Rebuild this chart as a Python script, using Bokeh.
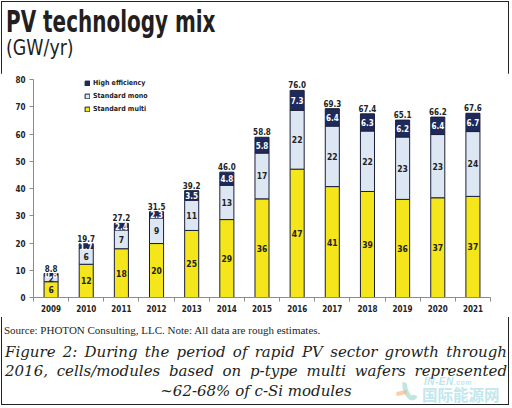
import numpy as np
from bokeh.plotting import figure
from bokeh.layouts import column
from bokeh.models import (ColumnDataSource, FixedTicker, Legend, LegendItem,
                          Range1d, BasicTickFormatter, Div)
from bokeh.core.properties import value
from bokeh.embed import file_html
from bokeh.resources import INLINE

# ---------------- data ----------------
years = [2009, 2010, 2011, 2012, 2013, 2014, 2015, 2016, 2017, 2018, 2019, 2020, 2021]
standard_multi = [5.8, 12.2, 17.9, 19.8, 24.6, 28.6, 36.2, 47.1, 40.7, 38.9, 36.0, 36.6, 37.1]
standard_mono = [2.2, 5.8, 6.9, 9.4, 11.1, 12.6, 16.8, 21.6, 22.2, 22.2, 22.9, 23.2, 23.8]
high_efficiency = [0.8, 1.7, 2.4, 2.3, 3.5, 4.8, 5.8, 7.3, 6.4, 6.3, 6.2, 6.4, 6.7]
series_labels = ["Standard multi", "Standard mono", "High efficiency"]
y_ticks = [0, 10, 20, 30, 40, 50, 60, 70, 80]

title_text = "PV technology mix"
unit_text = "(GW/yr)"
source_text = "Source: PHOTON Consulting, LLC. Note: All data are rough estimates."
caption_lines = [
    "Figure 2: During the period of rapid PV sector growth through",
    "2016, cells/modules based on p-type multi wafers represented",
    "~62-68% of c-Si modules",
]
watermark_latin = "IN-EN"
watermark_latin_small = ".com"
watermark_cjk = "国际能源网"

# ---------------- styles ----------------
COND = "'Liberation Sans Narrow', 'DejaVu Sans Condensed', 'Roboto Condensed', 'Liberation Sans', sans-serif"
SERIF = "'DejaVu Serif', serif"
SERIF2 = "'Liberation Serif', serif"
colors = ["#f4e61a", "#dde6f3", "#1e2a5c"]
edge = "#1b1f3b"
axis_gray = "#8c8c8c"
W = 510

multi = np.array(standard_multi)
mono = np.array(standard_mono)
high = np.array(high_efficiency)
total = multi + mono + high

src = ColumnDataSource(dict(year=years, multi=standard_multi, mono=standard_mono,
                            high=high_efficiency))

p = figure(width=W, height=244, output_backend="svg", toolbar_location=None,
           title=None, x_range=Range1d(2008.5, 2021.5), y_range=Range1d(0, 80),
           min_border_left=33, min_border_right=20, min_border_top=6,
           min_border_bottom=20, margin=0)
p.outline_line_color = None
p.xgrid.visible = False
p.ygrid.visible = False
p.background_fill_color = "white"
p.border_fill_color = "white"

rs = p.vbar_stack(["multi", "mono", "high"], x="year", width=0.4, source=src,
                  fill_color=colors, line_color=edge, line_width=1)

# segment labels
lab = ColumnDataSource(dict(
    x=years,
    y_multi=multi / 2, t_multi=[f"{v:.0f}" for v in multi],
    y_mono=multi + mono / 2, t_mono=[f"{v:.0f}" for v in mono],
    y_high=multi + mono + high / 2, t_high=[f"{v:.1f}" for v in high],
    y_tot=total, t_tot=[f"{v:.1f}" for v in total],
))
common = dict(source=lab, text_align="center", text_font=value(COND),
              text_font_style="bold")
p.text(x="x", y="y_multi", text="t_multi", text_baseline="middle", text_color="#222222",
       text_font_size="8.5px", **common)
p.text(x="x", y="y_mono", text="t_mono", text_baseline="middle", text_color="#222222",
       text_font_size="8.5px", **common)
p.text(x="x", y="y_high", text="t_high", text_baseline="middle", text_color="white",
       text_font_size="8px", **common)
p.text(x="x", y="y_tot", text="t_tot", text_baseline="bottom", y_offset=-2,
       text_color="#222222", text_font_size="8px", **common)

# axes
p.xaxis.ticker = FixedTicker(ticks=years,
                             minor_ticks=[y - 0.5 for y in years] + [years[-1] + 0.5])
p.xaxis.formatter = BasicTickFormatter(use_scientific=False)
p.xaxis.major_tick_out = 0
p.xaxis.major_tick_in = 0
p.xaxis.minor_tick_out = 4
p.xaxis.minor_tick_in = 0
p.xaxis.minor_tick_line_color = axis_gray
p.xaxis.axis_line_color = axis_gray
p.xaxis.major_label_standoff = 3
p.yaxis.ticker = FixedTicker(ticks=y_ticks)
p.yaxis.major_tick_out = 4
p.yaxis.major_tick_in = 0
p.yaxis.minor_tick_line_color = None
p.yaxis.major_tick_line_color = axis_gray
p.yaxis.axis_line_color = axis_gray
p.yaxis.major_label_standoff = 4
for ax in (p.xaxis, p.yaxis):
    ax.major_label_text_font = COND
    ax.major_label_text_font_size = "8px"
    ax.major_label_text_font_style = "bold"
    ax.major_label_text_color = "#222222"

# legend
legend = Legend(items=[LegendItem(label=series_labels[2], renderers=[rs[2]]),
                       LegendItem(label=series_labels[1], renderers=[rs[1]]),
                       LegendItem(label=series_labels[0], renderers=[rs[0]])],
                location=(51, 184), orientation="vertical",
                border_line_color=None, background_fill_alpha=0,
                padding=0, margin=0, spacing=5, glyph_height=6, glyph_width=6,
                label_height=7, label_standoff=3,
                label_text_font=COND, label_text_font_size="7px",
                label_text_font_style="bold", label_text_color="#222222")
p.add_layout(legend)

# ---------------- header / footer text ----------------
header_html = (
    f'<div style="padding:8px 0 0 6px; font-family:{COND}; color:#231f20;">'
    f'<div style="font-size:30px; font-weight:bold; line-height:28px; white-space:nowrap; '
    f'transform:scaleX(0.74); transform-origin:0 50%;">{title_text}</div>'
    f'<div style="font-size:22px; line-height:23px; white-space:nowrap; '
    f'transform:scaleX(0.88); transform-origin:0 50%;">{unit_text}</div>'
    f'</div>'
)
header = Div(text=header_html, width=W, height=73, margin=0)

cap_style = f"font-family:{SERIF}; font-style:italic; font-size:15px; line-height:19.3px; color:#231f20;"
wm_color = "#a9dde6"
footer_html = (
    f'<div style="position:relative; width:{W}px; height:89px;">'
    # watermark logo
    f'<div style="position:absolute; left:403px; top:60px; width:14px; height:24px; '
    f'border-radius:50%; border:5px solid #8fd3c6; border-top-color:transparent; '
    f'border-right-color:transparent; opacity:0.55; transform:rotate(-20deg);"></div>'
    f'<div style="position:absolute; left:396px; top:74px; width:11px; height:4px; '
    f'border-radius:2px; background:#f5ae72; opacity:0.6; transform:rotate(-12deg);"></div>'
    # watermark text
    f'<div style="position:absolute; left:424px; top:60px; line-height:9px; font-family:Liberation Sans, sans-serif; '
    f'font-weight:bold; font-style:italic; font-size:10px; letter-spacing:0.5px; color:{wm_color}; opacity:0.75;">'
    f'{watermark_latin}<span style="font-size:7px;">{watermark_latin_small}</span></div>'
    f'<div style="position:absolute; left:422px; top:70px; line-height:15px; font-family:Noto Sans CJK SC, sans-serif; '
    f'font-weight:bold; font-size:15.5px; color:{wm_color}; opacity:0.7;">{watermark_cjk}</div>'
    # source + caption
    f'<div style="position:relative; padding:7px 0 0 4px; font-family:{SERIF2}; font-size:11px; '
    f'line-height:12px; color:#231f20; white-space:nowrap;">{source_text}</div>'
    f'<div style="position:relative; margin-top:7px; padding:0 3px 0 5px; {cap_style}">'
    f'<div style="text-align:justify; text-align-last:justify;">{caption_lines[0]}</div>'
    f'<div style="text-align:justify; text-align-last:justify;">{caption_lines[1]}</div>'
    f'<div style="text-align:center;">{caption_lines[2]}</div>'
    f'</div></div>'
)
footer = Div(text=footer_html, width=W, height=89, margin=0)

layout = column(header, p, footer, spacing=0, margin=0,
                styles={"outline": "1.5px solid #222", "outline-offset": "-2px",
                        "background-color": "white"})

open("out.html", "w").write(file_html(layout, INLINE))
